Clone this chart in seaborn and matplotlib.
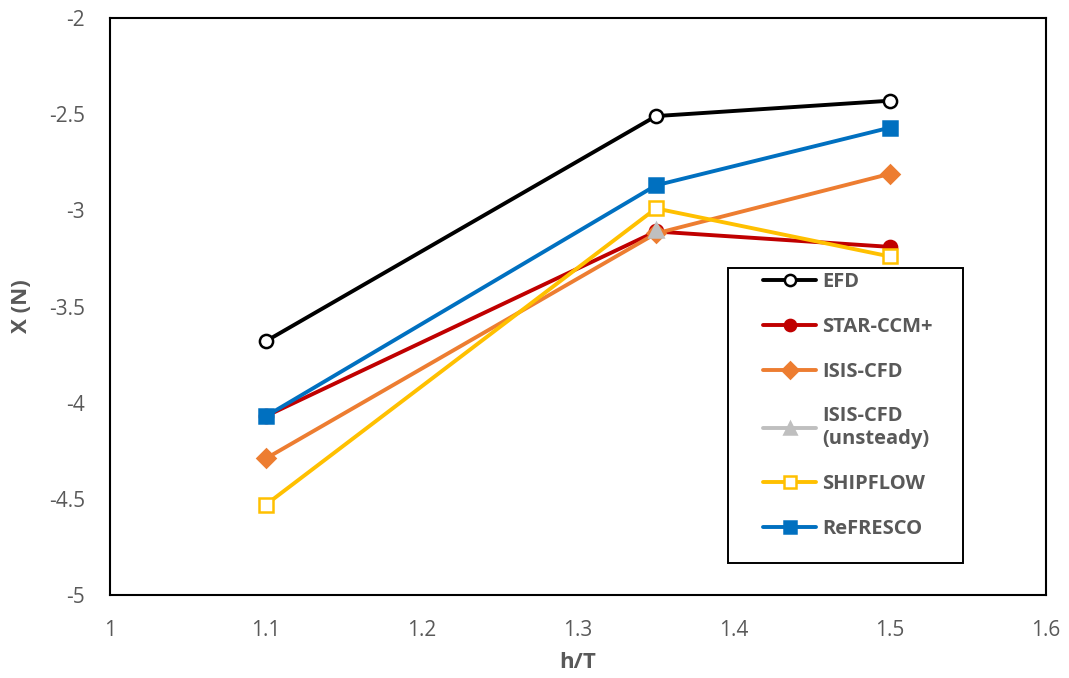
import matplotlib
matplotlib.use("Agg")
import matplotlib.pyplot as plt
from matplotlib.patches import Rectangle
import seaborn as sns
import pandas as pd
import numpy as np

h_T = [1.1, 1.35, 1.5]
efd = [-3.68, -2.51, -2.43]
star_ccm = [-4.07, -3.11, -3.19]
isis_cfd = [-4.29, -3.12, -2.81]
isis_unsteady = [np.nan, -3.10, np.nan]
shipflow = [-4.53, -2.99, -3.24]
refresco = [-4.07, -2.87, -2.57]

series_names = ["EFD", "STAR-CCM+", "ISIS-CFD", "ISIS-CFD\n(unsteady)", "SHIPFLOW", "ReFRESCO"]
series_vals = [efd, star_ccm, isis_cfd, isis_unsteady, shipflow, refresco]
colors = ["#000000", "#C00000", "#ED7D31", "#BFBFBF", "#FFC000", "#0070C0"]
markers = ["o", "o", "D", "^", "s", "s"]
mfc = ["white", "#C00000", "#ED7D31", "#BFBFBF", "white", "#0070C0"]

rows = []
for n, v in zip(series_names, series_vals):
    for x, y in zip(h_T, v):
        rows.append({"h/T": x, "X (N)": y, "series": n})
df = pd.DataFrame(rows)

sns.set_theme(style="white")
plt.rcParams['font.family'] = ['Open Sans', 'DejaVu Sans']

W, H = 1069, 678
fig = plt.figure(figsize=(10.69, 6.78), dpi=100)
ax = fig.add_axes([110/W, 1 - 595/H, (1046-110)/W, (595-18)/H])

for n, c, m, fc in zip(series_names, colors, markers, mfc):
    sub = df[df["series"] == n]
    sns.lineplot(data=sub, x="h/T", y="X (N)", ax=ax, color=c, lw=2.8,
                 marker=m, markersize=9.5 if m != "D" else 9, markerfacecolor=fc,
                 markeredgecolor=c, markeredgewidth=1.8, label=n,
                 estimator=None, sort=False, zorder=3)

ax.set_xlim(1.0, 1.6)
ax.set_ylim(-5, -2)
ax.set_xticks([1, 1.1, 1.2, 1.3, 1.4, 1.5, 1.6])
ax.set_xticklabels(["1", "1.1", "1.2", "1.3", "1.4", "1.5", "1.6"])
ax.set_yticks([-5, -4.5, -4, -3.5, -3, -2.5, -2])
ax.set_yticklabels(["-5", "-4.5", "-4", "-3.5", "-3", "-2.5", "-2"])
for s in ax.spines.values():
    s.set_color("black")
    s.set_linewidth(1.5)
ax.tick_params(axis="x", colors="#595959", labelsize=15, length=0, pad=18)
ax.tick_params(axis="y", colors="#595959", labelsize=15, length=0, pad=18)
ax.set_xlabel("h/T", fontsize=16, color="#595959", fontweight="bold", labelpad=8)
ax.set_ylabel("X (N)", fontsize=16, color="#595959", fontweight="bold", labelpad=12)
ax.grid(False)

# legend frame drawn separately to match the wide box
fig.patches.append(Rectangle((728/W, 1 - 563/H), (963-728)/W, (563-268)/H,
                             transform=fig.transFigure, facecolor="white",
                             edgecolor="black", linewidth=1.4, zorder=5))

leg = fig.legend(*ax.get_legend_handles_labels(), loc="upper left",
                 bbox_to_anchor=(757/W, 1 - 266/H),
                 frameon=False, labelspacing=1.23, handlelength=2.65, handletextpad=0.3,
                 borderpad=0.3, borderaxespad=0, markerscale=0.85,
                 prop={"weight": "bold", "size": 14.5})
leg.set_zorder(6)
ax.get_legend().remove()
for t in leg.get_texts():
    t.set_color("#595959")

fig.savefig("out.png", dpi=100)
